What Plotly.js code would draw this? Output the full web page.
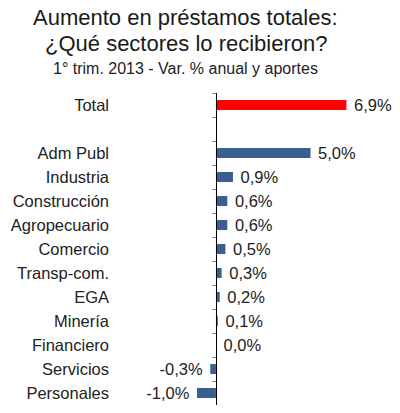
<!DOCTYPE html>
<html>
<head>
<meta charset="utf-8">
<script src="https://cdn.plot.ly/plotly-3.0.1.min.js"></script>
<style>
  html, body { margin: 0; padding: 0; background: #fff; }
  #chart { width: 400px; height: 413px; }
</style>
</head>
<body>
<div id="chart"></div>
<script>
// ---- Datos ----
const sectores = ['Total', ' ', 'Adm Publ', 'Industria', 'Construcción', 'Agropecuario',
  'Comercio', 'Transp-com.', 'EGA', 'Minería', 'Financiero', 'Servicios', 'Personales'];
const variacion = [6.9, null, 5.0, 0.9, 0.6, 0.6, 0.5, 0.3, 0.2, 0.1, 0.0, -0.3, -1.0];
const colores = sectores.map(s => s === 'Total' ? '#ff0000' : '#3a6090');

const xMin = -5.6;
const xMax = 9.73;
const zeroPos = -xMin / (xMax - xMin);
const catRange = [sectores.length - 0.5, -0.5];

const FONT = 'Liberation Sans, Arial, sans-serif';

// etiqueta con coma decimal y un espacio de separación respecto de la barra
function etiqueta(v) {
  if (v === null) return '';
  const t = v.toFixed(1).replace('.', ',') + '%';
  return v < 0 ? t + ' ' : ' ' + t;
}

const barras = {
  type: 'bar',
  orientation: 'h',
  y: sectores,
  x: variacion,
  marker: { color: colores },
  width: 0.42,
  text: variacion.map(etiqueta),
  textposition: 'outside',
  constraintext: 'none',
  cliponaxis: false,
  textfont: { family: FONT, size: 16.5, color: '#222' },
  hoverinfo: 'skip'
};

// traza invisible para dibujar el eje en el cero
const ejeCero = {
  type: 'scatter',
  mode: 'markers',
  y: sectores,
  x: variacion,
  yaxis: 'y2',
  marker: { opacity: 0 },
  hoverinfo: 'skip'
};

const layout = {
  width: 400,
  height: 413,
  paper_bgcolor: '#fff',
  plot_bgcolor: 'rgba(0,0,0,0)',
  font: { family: FONT, color: '#222' },
  margin: { t: 93, r: 0, b: 8, l: 110 },
  showlegend: false,
  annotations: [
    { text: 'Aumento en préstamos totales:', xref: 'paper', yref: 'paper',
      x: 0.262, y: 1.242, xanchor: 'center', yanchor: 'middle', showarrow: false,
      borderpad: 0, font: { size: 22, color: '#1a1a1a' } },
    { text: '¿Qué sectores lo recibieron?', xref: 'paper', yref: 'paper',
      x: 0.262, y: 1.160, xanchor: 'center', yanchor: 'middle', showarrow: false,
      borderpad: 0, font: { size: 22, color: '#1a1a1a' } },
    { text: '1° trim. 2013 - Var. % anual y aportes', xref: 'paper', yref: 'paper',
      x: 0.262, y: 1.078, xanchor: 'center', yanchor: 'middle', showarrow: false,
      borderpad: 0, font: { size: 16, color: '#222' } }
  ],
  xaxis: {
    range: [xMin, xMax],
    showgrid: false,
    zeroline: false,
    showline: false,
    showticklabels: false,
    ticks: ''
  },
  yaxis: {
    type: 'category',
    range: catRange,
    showgrid: false,
    zeroline: false,
    showline: false,
    ticks: '',
    tickfont: { size: 16.5, color: '#222' }
  },
  yaxis2: {
    type: 'category',
    overlaying: 'y',
    anchor: 'free',
    position: zeroPos,
    side: 'left',
    range: catRange,
    tickson: 'boundaries',
    ticks: 'outside',
    ticklen: 4,
    tickcolor: '#888',
    showticklabels: false,
    showline: true,
    linecolor: '#000',
    linewidth: 1.3,
    showgrid: false,
    zeroline: false
  }
};

Plotly.newPlot('chart', [barras, ejeCero], layout, { displayModeBar: false, staticPlot: true });
</script>
</body>
</html>
